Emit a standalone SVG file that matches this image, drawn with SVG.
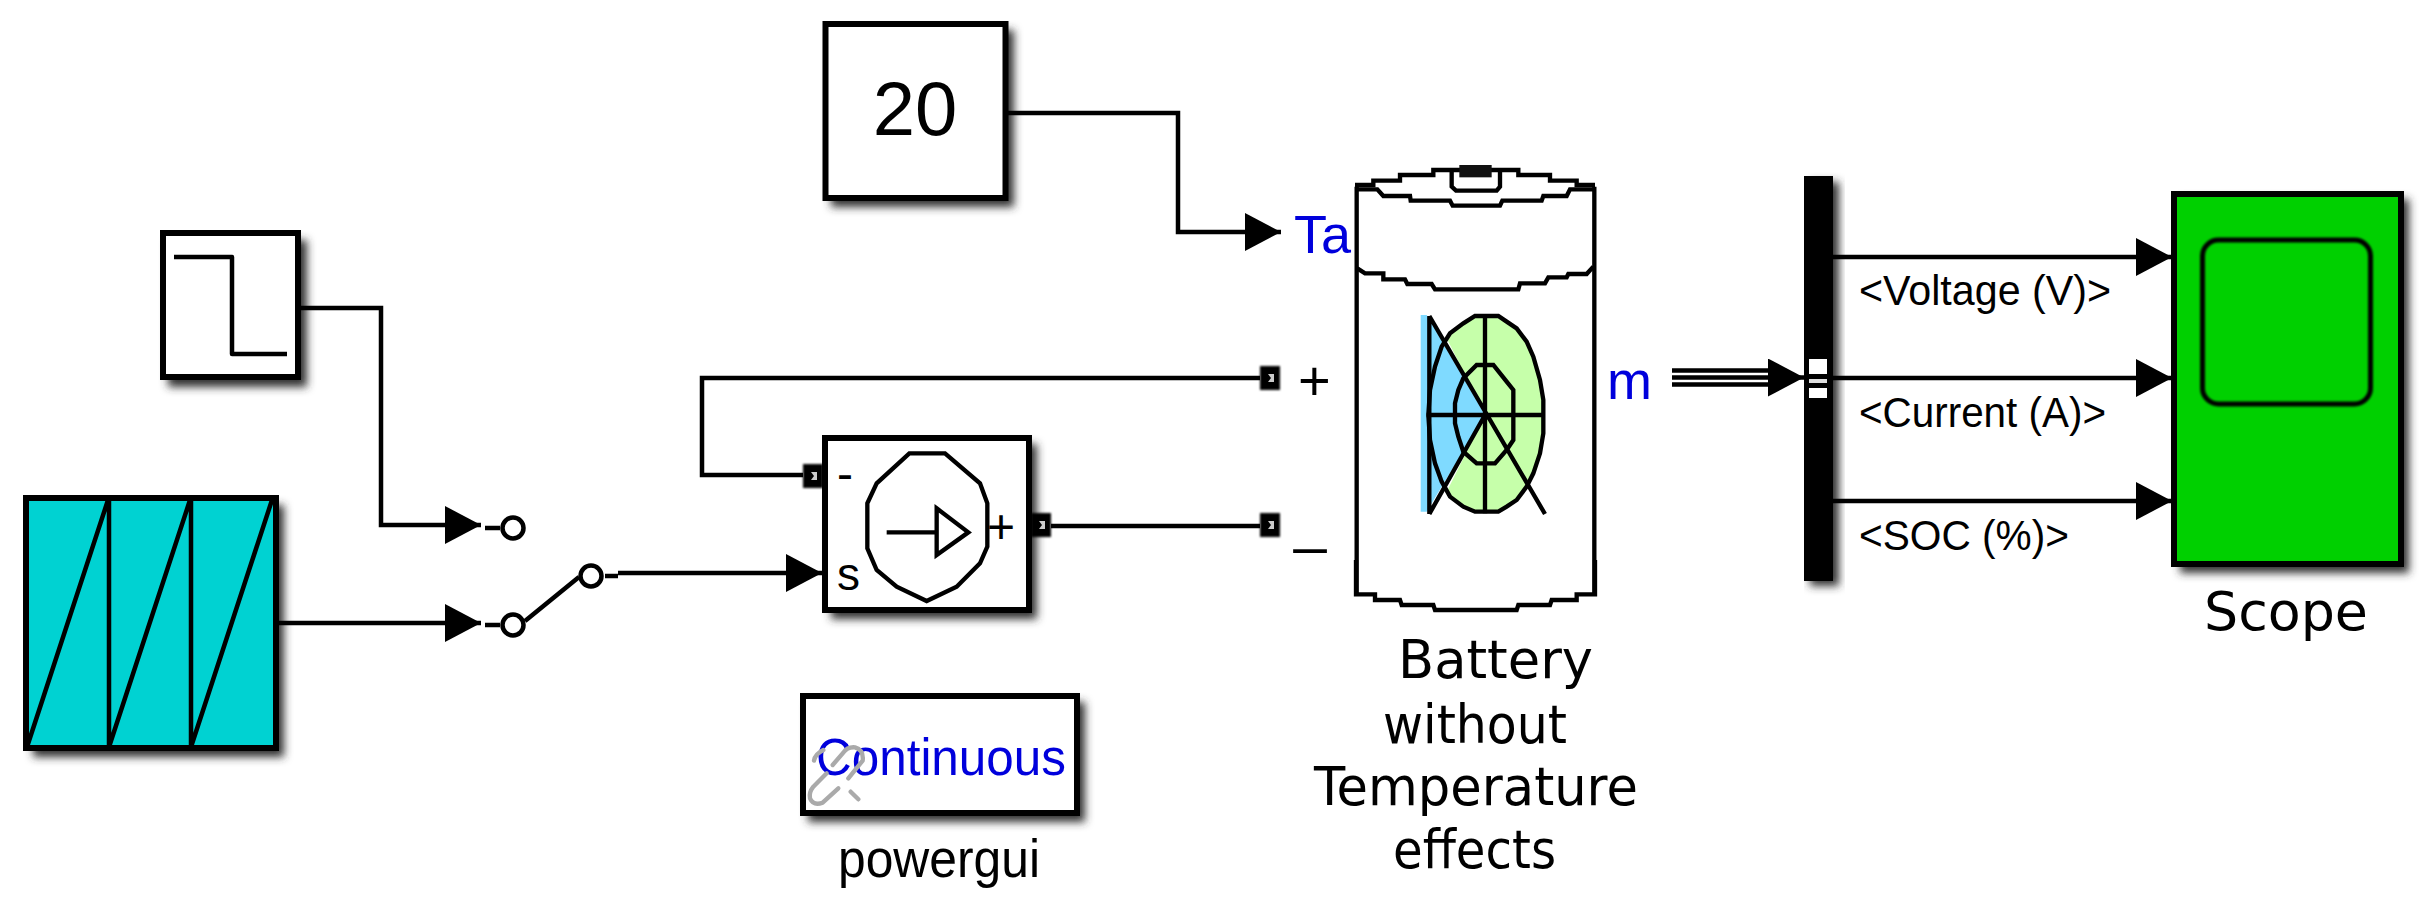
<svg xmlns="http://www.w3.org/2000/svg" xmlns:xlink="http://www.w3.org/1999/xlink" width="2431" height="906" viewBox="0 0 2431 906">
<style>
.box{stroke:#000;stroke-width:6;stroke-linejoin:miter}
.wh{fill:#fff}
.sh{fill:#333;filter:url(#blur)}
.w{fill:none;stroke:#000;stroke-width:4.500}
.i{fill:none;stroke:#000;stroke-width:4.500;stroke-linejoin:round}
.z{fill:none;stroke:#000;stroke-width:13;stroke-linejoin:miter}
.sw{fill:#fff;stroke:#000;stroke-width:4.500}
.a{font-family:"Liberation Sans",Arial,sans-serif;fill:#000}
.b{font-family:"Liberation Sans",Arial,sans-serif;fill:#0000dc}
.d{font-family:"DejaVu Sans",sans-serif;fill:#000;font-size:53px}
.l{font-size:42px}
</style>
<defs>
<filter id="blur" x="-20%" y="-20%" width="140%" height="140%"><feGaussianBlur stdDeviation="4"/></filter>
<filter id="soft" x="-20%" y="-20%" width="140%" height="140%"><feGaussianBlur stdDeviation="0.8"/></filter>
<marker id="arrow" viewBox="0 0 36 38" refX="36" refY="19" markerWidth="36" markerHeight="38" markerUnits="userSpaceOnUse" orient="auto"><path d="M0 0L36 19L0 38Z" fill="#000"/></marker>
<g id="port"><rect x="-10" y="-12" width="20" height="24" fill="#000" filter="url(#soft)"/><path d="M-2-4h6v8h-6l3-4z" fill="#ccc"/></g>
</defs>
<rect width="2431" height="906" fill="#fff"/>

<g id="step">
<rect class="sh" x="168" y="240" width="139" height="147"/>
<rect class="box wh" x="163" y="233" width="135" height="144"/>
<path class="i" d="M174 257H232V354H287"/>
</g>

<g id="repeating-sequence">
<rect class="sh" x="33" y="505" width="251" height="252"/>
<rect class="box" x="26" y="498" width="250" height="250" fill="#00d2d2"/>
<path class="i" d="M109 497V748M191 497V748M27 747L109 497M109 747L191 497M191 747L273 497"/>
</g>

<g id="constant">
<rect class="sh" x="831" y="30" width="183" height="177"/>
<rect class="box wh" x="825.500" y="24" width="180" height="174"/>
<text class="a" x="915" y="135" font-size="76" text-anchor="middle">20</text>
</g>

<g id="switch">
<path class="i" d="M485 528H500M485 625H500M605 576H618M525 621L579 577"/>
<circle class="sw" cx="513" cy="528" r="10.500"/>
<circle class="sw" cx="513" cy="625" r="10.500"/>
<circle class="sw" cx="591" cy="576" r="10.500"/>
</g>

<g id="controlled-voltage-source">
<rect class="sh" x="831" y="444" width="206" height="175"/>
<rect class="box wh" x="825" y="438" width="204" height="172"/>
<use xlink:href="#port" href="#port" x="813" y="476"/>
<use xlink:href="#port" href="#port" x="1041" y="525"/>
<g transform="translate(780 400) scale(.33333)">
<path class="z" d="M388 160H495L600 250L622 310V440L600 490L530 560L440 603L350 560L290 510L262 445V310L290 250Z"/>
<path class="z" d="M320 397H470M470 325L565 397L470 465Z"/>
</g>
<text class="a" x="837" y="490" font-size="48">-</text>
<text class="a" x="837" y="590" font-size="46">s</text>
<text class="a" x="987" y="543" font-size="48">+</text>
</g>

<g id="powergui">
<rect class="sh" x="808" y="702" width="277" height="120"/>
<rect class="box wh" x="803" y="696" width="274" height="117"/>
<text class="b" x="816" y="775" font-size="52" textLength="250" lengthAdjust="spacingAndGlyphs">Continuous</text>
<g transform="translate(790 730) scale(.33333)" fill="none" stroke="#aaa" stroke-width="13" stroke-linecap="round" stroke-linejoin="round">
<path d="M175 145L218 92Q222 60 195 52Q172 50 160 68L128 105"/>
<path d="M145 175L98 218Q70 228 60 205Q56 188 70 170L110 130"/>
<path d="M72 92Q75 72 100 60M182 185L205 208"/>
</g>
<text class="a" x="838" y="877" font-size="53" textLength="202" lengthAdjust="spacingAndGlyphs">powergui</text>
</g>

<g id="battery">
<use xlink:href="#port" href="#port" x="1270" y="378"/>
<use xlink:href="#port" href="#port" x="1270" y="525"/>
<g transform="translate(1250 300) scale(.33333)">
<path d="M512 45H530L705 345L530 635H512Z" fill="#7fdaff"/>
<path d="M675 48H745L770 65L800 85L830 125L850 170L870 240L880 300V400L870 460L850 520L830 560L800 600L770 620L745 635H675L640 620L590 575L705 345L590 115L640 70Z" fill="#c6ffaa"/>
<path class="z" d="M675 48H745L770 65L800 85L830 125L850 170L870 240L880 300V400L870 460L850 520L830 560L800 600L770 620L745 635H675L640 620L600 590L575 545L555 490L540 420L535 345L540 270L555 200L575 140L600 100L640 70Z"/>
<path class="z" d="M680 195H730L770 245L790 270V420L770 450L735 490H680L640 455L625 410L615 370V310L625 270L640 235Z"/>
<path class="z" d="M705 48V640M530 345H885M538 48V642M538 48L885 642M538 642L705 345"/>
</g>
<g transform="translate(1270 140) scale(.33333)">
<path class="z" d="M260 140V1365M973 140V1365"/>
<path class="z" d="M255 135H310V122H390V105H490V90H745V105H840V122H920V135H975"/>
<path class="z" d="M255 148H322L340 168H420L422 182H540L548 197H690L697 182H815L820 168H890L900 148H975"/>
<path class="z" d="M545 90V140L558 152H680L690 140V90"/>
<rect x="568" y="75" width="97" height="37" fill="#111"/>
<path class="z" d="M262 385L285 400H340V418H405L412 432H485L495 448H745L750 430H825L835 412H890L895 402H950L970 380"/>
</g>
<g transform="translate(1270 560) scale(.33333)">
<path class="z" d="M258 0V103H315V120H390L395 135H490L495 150H740L745 135H840L845 120H920V103H975V0"/>
</g>
<text class="b" x="1294" y="253" font-size="54">Ta</text>
<text class="a" x="1298" y="400" font-size="56">+</text>
<text class="a" x="1294" y="542" font-size="58">_</text>
<text class="b" x="1607" y="399" font-size="54">m</text>
<text class="d" x="1398" y="678" textLength="195" lengthAdjust="spacingAndGlyphs">Battery</text>
<text class="d" x="1383" y="743" textLength="184" lengthAdjust="spacingAndGlyphs">without</text>
<text class="d" x="1314" y="805" textLength="324" lengthAdjust="spacingAndGlyphs">Temperature</text>
<text class="d" x="1393" y="868" textLength="163" lengthAdjust="spacingAndGlyphs">effects</text>
</g>

<g id="mux">
<rect class="sh" x="1810" y="182" width="29" height="404"/>
<rect x="1804" y="176" width="29" height="405" fill="#000"/>
<rect x="1809" y="359" width="18" height="15" fill="#fff"/>
<rect x="1809" y="379" width="18" height="4" fill="#ddd"/>
<rect x="1809" y="388" width="18" height="10" fill="#fff"/>
</g>

<g id="scope">
<rect class="sh" x="2180" y="199" width="229" height="374"/>
<rect class="box" x="2174" y="194" width="227" height="370" fill="#00d000"/>
<rect x="2202.500" y="240" width="168" height="164" rx="16" fill="none" stroke="#000" stroke-width="5" filter="url(#soft)"/>
<text class="d" x="2204" y="630" textLength="164" lengthAdjust="spacingAndGlyphs">Scope</text>
</g>

<g id="connectors">
<path class="w" marker-end="url(#arrow)" d="M300 308H381V525H481"/>
<path class="w" marker-end="url(#arrow)" d="M278 623H481"/>
<path class="w" marker-end="url(#arrow)" d="M618 573H822"/>
<path class="w" marker-end="url(#arrow)" d="M1008 113H1178V232H1281"/>
<path class="w" d="M1260 378H702V475H803"/>
<path class="w" d="M1051 526H1260"/>
<path class="w" d="M1672 370.500H1780M1672 384.500H1780"/>
<path class="w" marker-end="url(#arrow)" d="M1672 377.500H1804"/>
<path class="w" marker-end="url(#arrow)" d="M1833 257H2172"/>
<path class="w" marker-end="url(#arrow)" d="M1833 378H2172"/>
<path class="w" marker-end="url(#arrow)" d="M1833 501H2172"/>
<text class="a l" x="1859" y="305" textLength="252" lengthAdjust="spacingAndGlyphs">&lt;Voltage (V)&gt;</text>
<text class="a l" x="1859" y="427" textLength="247" lengthAdjust="spacingAndGlyphs">&lt;Current (A)&gt;</text>
<text class="a l" x="1859" y="550" textLength="210" lengthAdjust="spacingAndGlyphs">&lt;SOC (%)&gt;</text>
</g>
</svg>
